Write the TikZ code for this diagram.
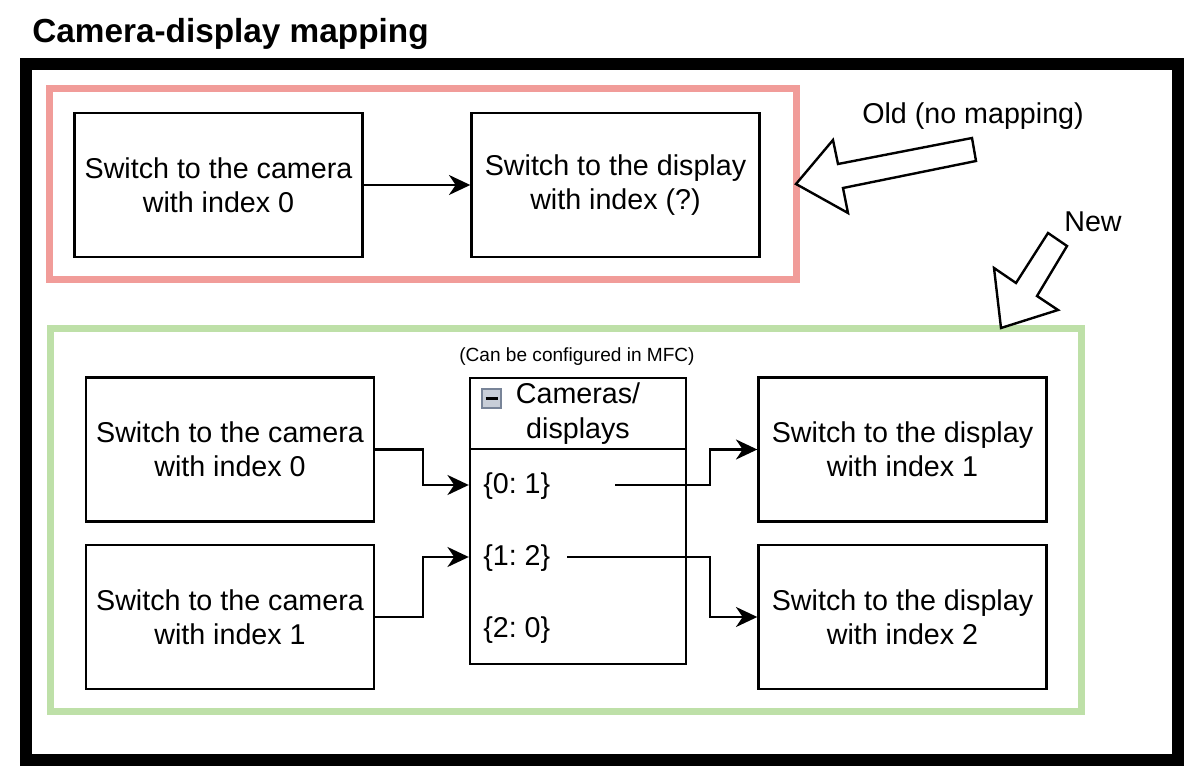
\documentclass[tikz,border=0pt]{standalone}
\usepackage{fontspec}
\setmainfont{Liberation Sans}
\usetikzlibrary{arrows.meta}
\definecolor{oldred}{RGB}{241,156,153}
\definecolor{newgreen}{RGB}{190,224,168}
\definecolor{iconfill}{RGB}{200,206,216}
\definecolor{iconline}{RGB}{120,132,152}
\tikzset{
  mainfont/.style={font=\fontsize{21.5}{25.8}\selectfont\frenchspacing},
  box/.style={draw, line width=1.8pt, minimum width=288*0.75pt, minimum height=144*0.75pt, align=center, mainfont, inner sep=0pt, execute at begin node={\rule{0pt}{18.7pt}}},
  arr/.style={line width=1.8pt, -{Stealth[length=16pt,width=15pt,inset=5pt]}},
  blockarrow/.style={draw, line width=1.8pt, fill=white, line join=miter},
  lbl/.style={mainfont, inner sep=0pt},
}
\begin{document}
\begin{tikzpicture}[x=0.75pt,y=-0.75pt]
\useasboundingbox (0,0) rectangle (1202,780);
% title
\node[anchor=base west, inner sep=0pt, font=\bfseries\fontsize{25}{30}\selectfont] (title) at (32,43) {Camera-display mapping};
% outer frame
\draw[line width=9pt] (26,64) rectangle (1177.5,760);
% old group
\draw[oldred, line width=5.25pt] (49.5,89) rectangle (796.5,280);
\node[box] (r1) at (218.5,185) {Switch to the camera\\with index 0};
\node[box] (r2) at (615.5,185) {Switch to the display\\with index (?)};
\draw[arr] (r1) -- (r2);
% new group
\draw[newgreen, line width=5.25pt] (50,328.5) rectangle (1081.5,711);
\node[anchor=base, inner sep=0pt, font=\fontsize{14.3}{17}\selectfont] (cfg) at (577,361) {(Can be configured in MFC)};
\node[box] (g1) at (230,449.5) {Switch to the camera\\with index 0};
\node[box] (g2) at (230,617) {Switch to the camera\\with index 1};
\node[box] (d1) at (902.5,449.5) {Switch to the display\\with index 1};
\node[box] (d2) at (902.5,617) {Switch to the display\\with index 2};
% table
\node[draw, line width=1.8pt, minimum width=216*0.75pt, minimum height=286*0.75pt, inner sep=0pt] (tbl) at (578,521) {};
\coordinate (hl) at (470,449);
\coordinate (hr) at (686,449);
\draw[line width=1.8pt] (hl) -- (hr);
\node[draw=iconline, fill=iconfill, line width=1.2pt, minimum size=19*0.75pt, inner sep=0pt] (icon) at (491.5,398.5) {};
\draw[line width=2.4pt] ([xshift=-4.5pt]icon.center) -- ([xshift=4.5pt]icon.center);
\node[lbl, align=center] (hdr) at (578,413.5) {Cameras/\\displays};
\node[lbl, anchor=west] (k0) at (483,486) {\{0: 1\}};
\node[lbl, anchor=west] (k1) at (483,558) {\{1: 2\}};
\node[lbl, anchor=west] (k2) at (483,630) {\{2: 0\}};
\coordinate (o0) at (615,485);
\coordinate (o1) at (567,557);
% connectors
\draw[arr] (g1.east) -- ++(48,0) |- (tbl.west |- o0);
\draw[arr] (g2.east) -- ++(48,0) |- (tbl.west |- o1);
\draw[arr] (o0) -- ++(95,0) |- (d1.west);
\draw[arr] (o1) -- ++(143,0) |- (d2.west);
% block arrows
\draw[blockarrow] (796,184) -- (833,140) -- (838,164) -- (972,138) -- (976,161) -- (843,188) -- (848,213) -- cycle;
\draw[blockarrow] (1001,328) -- (994,268) -- (1016,283) -- (1048,233) -- (1067,246) -- (1037,296) -- (1058,310) -- cycle;
\node[lbl, anchor=base] (old) at (973,124) {Old (no mapping)};
\node[lbl, anchor=base] (new) at (1093,232) {New};
\end{tikzpicture}
\end{document}
